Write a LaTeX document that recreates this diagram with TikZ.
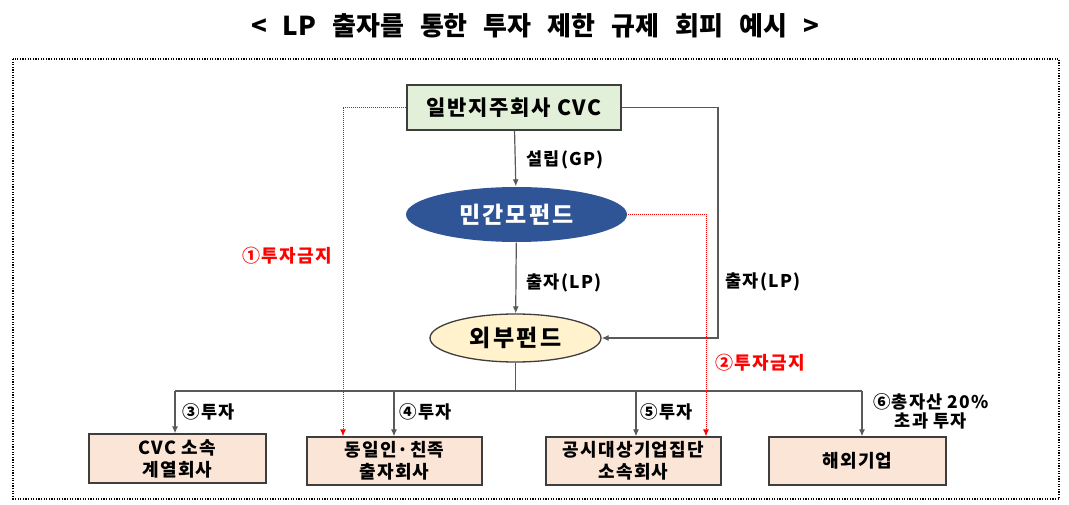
\documentclass[tikz,border=0pt]{standalone}
\usepackage{fontspec}
\setmainfont{Noto Sans CJK KR}
\usetikzlibrary{shapes.geometric}
\usetikzlibrary{arrows.meta}
\definecolor{cvcgreen}{HTML}{E2F0D9}
\definecolor{fundblue}{HTML}{2F5597}
\definecolor{fundcream}{HTML}{FFF2CC}
\definecolor{firmpeach}{HTML}{FBE5D6}
\definecolor{linkgray}{HTML}{595959}
\newcommand{\krsize}[3]{\fontsize{#1}{#2}\selectfont\bfseries\addfontfeature{LetterSpace=#3}}

\begin{document}
\begin{tikzpicture}[x=1pt, y=-1pt,
    firm/.style={draw=linkgray!70!black, line width=1.3pt, fill=firmpeach, minimum width=175pt, minimum height=48pt, align=center, inner sep=2pt, font=\krsize{18}{22}{7}},
    fund/.style={ellipse, inner sep=0pt, line width=1.3pt, font=\krsize{23}{26}{10}},
    link/.style={draw=linkgray, line width=1.2pt, -{Latex[length=7pt,width=6pt]}},
    ban/.style={draw=red, line width=1pt, dash pattern=on 1pt off 1pt, -{Latex[length=7pt,width=6pt]}},
    lbl/.style={font=\krsize{17.5}{19}{7}},
    banlbl/.style={text=red, font=\krsize{18}{19}{7}}]
            \useasboundingbox (0,0) rectangle (1069,505);

            % title and frame
            \node[font=\krsize{26}{30}{0}] (title) at (535,26) {\spaceskip=16pt < LP 출자를 통한 투자 제한 규제 회피 예시 >};
            \draw[line width=1.3pt, dash pattern=on 1.3pt off 1.3pt] (13,59) rectangle (1059,499);

            % holding company and funds
            \node[draw=linkgray!70!black, line width=1.3pt, fill=cvcgreen, minimum width=214pt, minimum height=45pt, font=\krsize{21}{24}{8}] (cvc) at (514,107.5) {일반지주회사 CVC};
            \node[fund, fill=fundblue, text=white, minimum width=221pt, minimum height=55pt] (mofund) at (516.5,214.5) {민간모펀드};
            \node[fund, draw=linkgray!70!black, fill=fundcream, minimum width=171pt, minimum height=48pt] (extfund) at (515.5,338) {외부펀드};

            % target companies
            \node[firm, minimum width=177pt, minimum height=49pt] (cvcfirm) at (177.5,458.5) {CVC 소속\\계열회사};
            \node[firm] (kinfirm) at (394.5,461) {동일인·친족\\출자회사};
            \node[firm] (groupfirm) at (633.5,461) {공시대상기업집단\\소속회사};
            \node[firm, minimum width=177pt] (abroad) at (857.5,461) {해외기업};

            % GP / LP links
            \draw[link] (cvc) -- (mofund);
            \node[lbl, anchor=west] (gp) at (523,160) {설립(GP)};
            \draw[link] (mofund) -- (extfund);
            \node[lbl, anchor=west] (lp) at (523,283) {출자(LP)};
            \coordinate (turn) at (718,107.5);
            \draw[link] (cvc.east) -- (turn) |- (extfund.east);
            \node[lbl, anchor=west] (lpright) at (722,282) {출자(LP)};

            % investment bus
            \coordinate (drop) at (515.5,391);
            \draw[linkgray, line width=1.2pt] (extfund.south) -- (drop);
            \draw[linkgray, line width=1.2pt] (175,391) -- (862,391);
            \foreach \name/\x in {cvcfirm/175, kinfirm/394, groupfirm/636, abroad/862}
                \draw[link] (\x,391) -- (\x,0 |- \name.north);

            \node[lbl, anchor=west] (inv3) at (179,412) {③투자};
            \node[lbl, anchor=west] (inv4) at (396,412) {④투자};
            \node[lbl, anchor=west] (inv5) at (637,412) {⑤투자};
            \node[lbl, align=center] (inv6) at (931,411) {⑥총자산 20\%\\초과 투자};

            % prohibited routes
            \draw[ban] (cvc.west) -| ([xshift=-51.5pt]kinfirm.north);
            \draw[ban] (mofund.east) -| ([xshift=72.5pt]groupfirm.north);
            \node[banlbl] (ban1) at (287,256) {①투자금지};
            \node[banlbl] (ban2) at (760,363) {②투자금지};
\end{tikzpicture}
\end{document}
